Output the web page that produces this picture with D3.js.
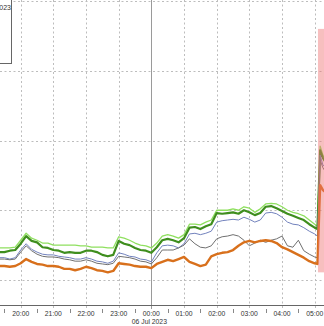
<!DOCTYPE html>
<html>
<head>
<meta charset="utf-8">
<script src="https://cdn.jsdelivr.net/npm/d3@7"></script>
<style>
html, body { margin: 0; padding: 0; background: #fff; overflow: hidden; }
svg { display: block; }
</style>
</head>
<body>
<div id="chart"></div>
<script>
// intraday timestamps (before noon = 06 Jul, after = 05 Jul)
var times = ["19:20","19:30","19:40","19:50","20:00","20:10","20:20","20:30","20:40","20:50",
    "21:00","21:10","21:20","21:30","21:40","21:50","22:00","22:10","22:20","22:30",
    "22:40","22:50","23:00","23:10","23:20","23:30","23:40","23:50","00:00","00:10",
    "00:20","00:30","00:40","00:50","01:00","01:10","01:20","01:30","01:40","01:50",
    "02:00","02:10","02:20","02:30","02:40","02:50","03:00","03:10","03:20","03:30",
    "03:40","03:50","04:00","04:10","04:20","04:30","04:40","04:50","05:00","05:05",
    "05:10","05:15","05:20"];

var lightGreen = [104.6,104.6,104.6,104.7,105.7,106.7,106.0,105.7,105.3,105.3,
    105.0,105.0,105.0,105.0,105.0,104.9,104.9,104.7,104.7,104.7,
    104.6,104.6,106.2,106.0,105.7,105.3,105.0,104.9,104.6,105.3,
    106.3,106.5,106.3,106.0,106.5,108.0,108.0,107.9,108.3,108.6,
    110.0,110.0,110.0,110.2,110.0,110.5,110.3,109.7,110.2,110.9,
    111.0,110.9,110.5,110.0,109.7,109.5,109.2,108.6,108.0,107.7,
    119.2,117.9,117.2];

var darkGreen = [104.0,104.0,104.2,104.3,105.2,106.3,105.6,105.4,104.7,104.6,
    104.3,104.2,103.9,104.0,103.9,103.9,104.2,104.2,104.0,103.6,
    103.4,103.6,105.6,105.2,105.0,104.6,104.3,104.2,103.9,104.7,
    105.7,105.9,105.7,105.4,106.0,107.5,107.6,107.3,107.7,108.0,
    109.6,109.5,109.6,109.7,109.5,110.0,109.7,109.3,109.6,110.5,
    110.6,110.3,109.9,109.5,109.2,108.9,108.6,108.0,107.5,107.3,
    118.6,117.5,116.9];

var blue = [103.2,103.2,103.0,103.2,104.3,105.2,104.4,104.0,103.7,103.6,
    103.6,103.4,103.3,103.2,103.0,103.0,103.2,103.0,102.7,102.6,
    102.4,102.7,103.9,103.7,103.4,103.3,103.0,102.9,102.6,103.9,
    104.9,105.0,104.9,104.6,105.2,106.6,106.7,106.5,106.7,107.0,
    108.3,108.5,108.6,108.7,108.6,109.0,108.7,108.3,108.6,109.6,
    109.7,109.5,109.0,108.3,108.0,107.9,107.5,107.0,106.6,106.3,
    117.9,116.5,116.1];

var gray = [103.0,103.0,102.9,103.0,104.0,104.9,104.2,103.7,103.4,103.3,
    103.3,103.2,103.0,102.9,102.7,102.7,102.9,102.7,102.4,102.3,
    102.2,102.4,103.4,103.3,103.2,103.0,102.7,102.6,102.3,103.2,
    104.3,104.3,104.3,104.6,105.0,105.9,105.2,104.7,104.6,104.9,
    105.9,106.2,106.3,106.5,106.3,105.7,104.9,105.3,105.7,105.4,
    105.7,105.9,106.3,104.9,104.7,105.7,104.2,103.7,103.3,103.2,
    117.2,116.1,115.5];

var orange = [102.0,102.0,101.9,102.0,102.4,103.0,102.6,102.3,102.2,102.0,
    102.0,101.9,101.6,101.6,101.4,101.6,101.9,101.7,101.4,101.3,
    101.1,101.3,102.4,102.3,102.2,102.0,101.9,101.9,101.7,102.3,
    102.6,102.9,102.7,103.0,103.3,102.6,102.3,102.0,102.2,103.4,
    103.7,103.9,104.0,104.3,104.9,105.4,105.6,105.4,105.6,105.7,
    105.6,105.3,104.7,104.4,104.0,103.6,103.2,102.7,102.4,102.3,
    113.6,112.9,112.6];

var hourTicks = ["20:00","21:00","22:00","23:00","00:00","01:00","02:00","03:00","04:00","05:00"];
var halfTicks = ["19:30","20:30","21:30","22:30","23:30","00:30","01:30","02:30","03:30","04:30"];
var gridValues = [100, 110, 120, 130, 140];
var dayBreak = "00:00";
var dateLabel = "06 Jul 2023";
var highlightTimes = ["05:06", "05:40"];
var highlightRange = [101.1, 136.0];
var legendText = "06 Jul 2023";

var width = 324, height = 326, axisY = 305;

function toDate(s) {
    var h = +s.slice(0, 2), m = +s.slice(3);
    return new Date(2023, 6, h >= 12 ? 5 : 6, h, m);
}

var x = d3.scaleTime()
    .domain([toDate("20:00"), toDate("05:00")])
    .range([20.7, 314.7]);

var y = d3.scaleLinear()
    .domain([100, 140])
    .range([280, 1]);

var svg = d3.select("#chart").append("svg")
    .attr("width", width)
    .attr("height", height);

svg.append("clipPath").attr("id", "plot")
    .append("rect").attr("x", 0).attr("y", 0).attr("width", width).attr("height", axisY);

/* dotted grid */
svg.append("g").selectAll("line")
    .data(gridValues)
    .enter().append("line")
    .attr("x1", 0).attr("x2", width)
    .attr("y1", function(d) { return Math.round(y(d)) + 0.5; })
    .attr("y2", function(d) { return Math.round(y(d)) + 0.5; })
    .style("stroke", "#bdbdbd")
    .style("stroke-dasharray", "2,2.5");

svg.append("g").selectAll("line")
    .data(hourTicks.filter(function(t) { return t != dayBreak; }))
    .enter().append("line")
    .attr("x1", function(d) { return Math.round(x(toDate(d))) + 0.5; })
    .attr("x2", function(d) { return Math.round(x(toDate(d))) + 0.5; })
    .attr("y1", 0).attr("y2", axisY + 4)
    .style("stroke", "#bdbdbd")
    .style("stroke-dasharray", "2,2.5");

/* day separator */
svg.append("line")
    .attr("x1", Math.round(x(toDate(dayBreak))) + 0.5)
    .attr("x2", Math.round(x(toDate(dayBreak))) + 0.5)
    .attr("y1", 0).attr("y2", axisY + 4)
    .style("stroke", "#9a9a9a");

/* series */
var series = [
    {values: lightGreen, color: "#8fe05f", w: 1.3},
    {values: darkGreen, color: "#3f8e1e", w: 2.2},
    {values: blue, color: "#7282bd", w: 1},
    {values: gray, color: "#707070", w: 1},
    {values: orange, color: "#d8701c", w: 2.4}
];

var line = d3.line()
    .x(function(d, i) { return x(toDate(times[i])); })
    .y(function(d) { return y(d); });

var g = svg.append("g").attr("clip-path", "url(#plot)");

g.selectAll("path")
    .data(series)
    .enter().append("path")
    .attr("d", function(s) { return line(s.values); })
    .style("fill", "none")
    .style("stroke", function(s) { return s.color; })
    .style("stroke-width", function(s) { return s.w; })
    .style("stroke-linejoin", "round");

/* highlighted window */
svg.append("rect")
    .attr("x", x(toDate(highlightTimes[0])))
    .attr("y", y(highlightRange[1]))
    .attr("width", x(toDate(highlightTimes[1])) - x(toDate(highlightTimes[0])))
    .attr("height", y(highlightRange[0]) - y(highlightRange[1]))
    .style("fill", "#ee7272")
    .style("opacity", 0.45);

/* legend box, mostly off the left edge */
svg.append("rect")
    .attr("x", -100.5).attr("y", -10.5)
    .attr("width", 112).attr("height", 74)
    .style("fill", "#fff")
    .style("stroke", "#666");

svg.append("text")
    .attr("x", 11).attr("y", 9.5)
    .attr("text-anchor", "end")
    .style("font-family", "Liberation Sans, Arial, sans-serif")
    .style("font-size", "7px")
    .style("fill", "#333")
    .text(legendText);

/* x axis */
svg.append("line")
    .attr("x1", 0).attr("x2", width)
    .attr("y1", axisY + 0.5).attr("y2", axisY + 0.5)
    .style("stroke", "#666");

svg.append("g").selectAll("line")
    .data(halfTicks)
    .enter().append("line")
    .attr("x1", function(d) { return Math.round(x(toDate(d))) + 0.5; })
    .attr("x2", function(d) { return Math.round(x(toDate(d))) + 0.5; })
    .attr("y1", axisY + 4).attr("y2", axisY + 8)
    .style("stroke", "#888");

svg.append("g").selectAll("text")
    .data(hourTicks)
    .enter().append("text")
    .attr("x", function(d) { return x(toDate(d)); })
    .attr("y", axisY + 11)
    .attr("text-anchor", "middle")
    .style("font-family", "Liberation Sans, Arial, sans-serif")
    .style("font-size", "6.8px")
    .style("fill", "#333")
    .text(function(d) { return d; });

svg.append("text")
    .attr("x", x(toDate(dayBreak)) - 2)
    .attr("y", axisY + 19)
    .attr("text-anchor", "middle")
    .style("font-family", "Liberation Sans, Arial, sans-serif")
    .style("font-size", "6.8px")
    .style("fill", "#333")
    .text(dateLabel);
</script>
</body>
</html>
